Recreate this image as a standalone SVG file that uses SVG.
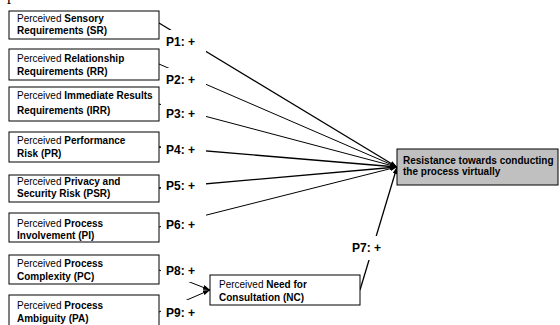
<svg xmlns="http://www.w3.org/2000/svg" width="560" height="325" viewBox="0 0 560 325">
<style>
.box{fill:#fff;stroke:#000;stroke-width:1}
.tbox{fill:#c0c0c0;stroke:#000;stroke-width:1}
.t{font-family:"Liberation Sans",Arial,sans-serif;font-size:10px;fill:#000}
.b{font-weight:bold}
.lbl{font-family:"Liberation Sans",Arial,sans-serif;font-size:12px;font-weight:bold;fill:#000}
.c{fill:none;stroke:#000;stroke-width:1;marker-end:url(#ah)}
.k{stroke-width:1.3}
.bg{fill:#fff;stroke:none}
</style>
<defs>
<marker id="ah" markerUnits="userSpaceOnUse" markerWidth="7" markerHeight="5" refX="7" refY="2.5" orient="auto">
<path d="M0,0 L7,2.5 L0,5 z" fill="#000"/>
</marker>
</defs>
<rect width="560" height="325" fill="#fff"/>
<text x="7" y="0" font-family="Liberation Serif,serif" font-size="16">p</text>
<g id="connectors">
<line class="c k" x1="159" y1="23" x2="397" y2="167"/>
<line class="c" x1="159" y1="64" x2="397" y2="167"/>
<line class="c" x1="159" y1="104" x2="397" y2="167"/>
<line class="c k" x1="159" y1="147" x2="397" y2="167"/>
<line class="c k" x1="159" y1="188" x2="397" y2="167"/>
<line class="c" x1="159" y1="227" x2="397" y2="167"/>
<line class="c k" x1="360" y1="290" x2="397" y2="167"/>
<line class="c" x1="159" y1="270" x2="210" y2="290"/>
<line class="c" x1="159" y1="312" x2="210" y2="290"/>
</g>
<g id="labels">
<rect class="bg" x="161" y="30" width="45" height="24"/><text class="lbl" x="166" y="46">P1: +</text>
<rect class="bg" x="161" y="68" width="45" height="24"/><text class="lbl" x="166" y="84">P2: +</text>
<rect class="bg" x="161" y="102" width="45" height="24"/><text class="lbl" x="166" y="118">P3: +</text>
<rect class="bg" x="161" y="138" width="45" height="24"/><text class="lbl" x="166" y="154">P4: +</text>
<rect class="bg" x="161" y="174" width="45" height="24"/><text class="lbl" x="166" y="190">P5: +</text>
<rect class="bg" x="161" y="213" width="45" height="24"/><text class="lbl" x="166" y="229">P6: +</text>
<rect class="bg" x="349" y="236" width="36" height="24"/><text class="lbl" x="352" y="252">P7: +</text>
<rect class="bg" x="161" y="259" width="45" height="23"/><text class="lbl" x="166" y="275">P8: +</text>
<rect class="bg" x="161" y="300" width="45" height="24"/><text class="lbl" x="166" y="317">P9: +</text>
</g>
<g id="SR"><rect class="box" x="9" y="11" width="150" height="28"/>
<text class="t" x="17" y="21.5">Perceived <tspan class="b">Sensory</tspan></text>
<text class="t b" x="17" y="34">Requirements (SR)</text></g>
<g id="RR"><rect class="box" x="9" y="49" width="150" height="31"/>
<text class="t" x="17" y="62">Perceived <tspan class="b">Relationship</tspan></text>
<text class="t b" x="17" y="75">Requirements (RR)</text></g>
<g id="IRR"><rect class="box" x="9" y="87" width="150" height="34"/>
<text class="t" x="17" y="99">Perceived <tspan class="b">Immediate Results</tspan></text>
<text class="t b" x="17" y="114">Requirements (IRR)</text></g>
<g id="PR"><rect class="box" x="9" y="132" width="150" height="30"/>
<text class="t" x="17" y="144">Perceived <tspan class="b">Performance</tspan></text>
<text class="t b" x="17" y="157">Risk (PR)</text></g>
<g id="PSR"><rect class="box" x="9" y="175" width="150" height="27"/>
<text class="t" x="17" y="185">Perceived <tspan class="b">Privacy and</tspan></text>
<text class="t b" x="17" y="197">Security Risk (PSR)</text></g>
<g id="PI"><rect class="box" x="9" y="213" width="150" height="29"/>
<text class="t" x="17" y="227">Perceived <tspan class="b">Process</tspan></text>
<text class="t b" x="17" y="239">Involvement (PI)</text></g>
<g id="PC"><rect class="box" x="9" y="255" width="150" height="29"/>
<text class="t" x="17" y="267">Perceived <tspan class="b">Process</tspan></text>
<text class="t b" x="17" y="280">Complexity (PC)</text></g>
<g id="PA"><rect class="box" x="9" y="295" width="150" height="40"/>
<text class="t" x="17" y="309">Perceived <tspan class="b">Process</tspan></text>
<text class="t b" x="17" y="322">Ambiguity (PA)</text></g>
<g id="NC"><rect class="box" x="210" y="275" width="150" height="30"/>
<text class="t" x="219" y="288">Perceived <tspan class="b">Need for</tspan></text>
<text class="t b" x="219" y="301">Consultation (NC)</text></g>
<g id="Resistance"><rect class="tbox" x="397" y="149" width="161" height="36"/>
<text class="t b" x="403" y="164">Resistance towards conducting</text>
<text class="t b" x="403" y="175">the process virtually</text></g>
</svg>
